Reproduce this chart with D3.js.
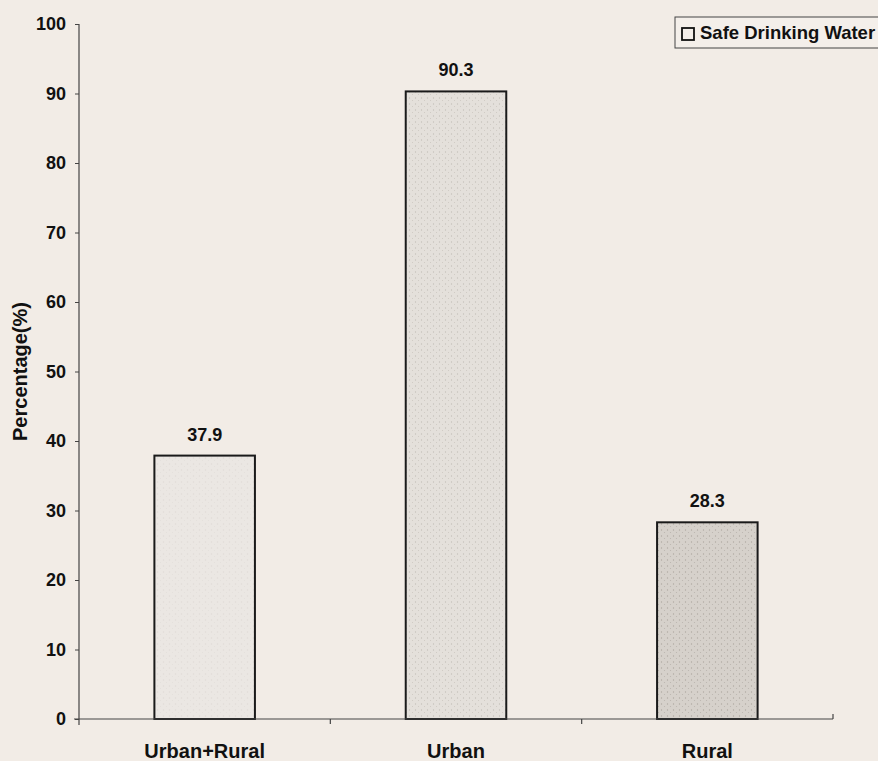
<!DOCTYPE html>
<html>
<head>
<meta charset="utf-8">
<script src="https://cdn.jsdelivr.net/npm/d3@7"></script>
<style>
  html, body { margin: 0; padding: 0; background: #f2ece6; }
  svg { display: block; }
  text { font-family: "Liberation Sans", Arial, sans-serif; font-weight: bold; fill: #111; }
</style>
</head>
<body>
<svg id="chart" width="878" height="761"></svg>
<script>
const categories = ["Urban+Rural", "Urban", "Rural"];
const values = [37.9, 90.3, 28.3];
const yTicks = [0, 10, 20, 30, 40, 50, 60, 70, 80, 90, 100];
const seriesName = "Safe Drinking Water";
const yLabel = "Percentage(%)";
const barFills = ["#ebe7e3", "#e4e0db", "#d6d1cb"];

const svg = d3.select("#chart");
const mLeft = 79, mRight = 833, mTop = 24, mBottom = 719;

const x = d3.scaleBand().domain(categories).range([mLeft, mRight]).paddingInner(0.6).paddingOuter(0.3);
const y = d3.scaleLinear().domain([0, 100]).range([mBottom, mTop]);

// speckle pattern for photo-like texture
const defs = svg.append("defs");
barFills.forEach((c, i) => {
  const p = defs.append("pattern").attr("id", "pat" + i).attr("patternUnits", "userSpaceOnUse")
    .attr("width", 6).attr("height", 6);
  p.append("rect").attr("width", 6).attr("height", 6).attr("fill", c);
  p.append("circle").attr("cx", 1.5).attr("cy", 2).attr("r", 0.7).attr("fill", "#aaa49e").attr("opacity", 0.2 + i * 0.35);
  p.append("circle").attr("cx", 4.5).attr("cy", 4.5).attr("r", 0.6).attr("fill", "#b4aea8").attr("opacity", 0.15 + i * 0.35);
});

// bars
svg.selectAll("rect.bar").data(categories).enter().append("rect")
  .attr("class", "bar")
  .attr("x", d => x(d))
  .attr("y", (d, i) => y(values[i]))
  .attr("width", x.bandwidth())
  .attr("height", (d, i) => y(0) - y(values[i]))
  .attr("fill", (d, i) => `url(#pat${i})`)
  .attr("stroke", "#1a1a1a")
  .attr("stroke-width", 2);

// value labels
svg.selectAll("text.val").data(categories).enter().append("text")
  .attr("class", "val")
  .attr("x", d => x(d) + x.bandwidth() / 2)
  .attr("y", (d, i) => y(values[i]) - 15)
  .attr("text-anchor", "middle")
  .attr("font-size", 18)
  .text((d, i) => values[i].toFixed(1));

// y axis
const yAxis = d3.axisLeft(y).tickValues(yTicks).tickSize(4).tickPadding(9);
const gy = svg.append("g").attr("transform", `translate(${mLeft},0)`).call(yAxis);
gy.select(".domain").attr("stroke", "#444").attr("stroke-width", 1.2).attr("d", `M0,${mTop}V${mBottom + 6}`);
gy.selectAll(".tick line").attr("stroke", "#444");
gy.selectAll(".tick text").attr("font-size", 18).attr("font-family", "Liberation Sans, Arial, sans-serif").attr("font-weight", "bold").attr("fill", "#111");

// x axis line with boundary ticks
svg.append("line").attr("x1", mLeft - 5).attr("x2", mRight).attr("y1", mBottom).attr("y2", mBottom)
  .attr("stroke", "#444").attr("stroke-width", 1.2);
const boundaries = categories.map(c => x(c) - x.step() * x.paddingOuter() + x.step());
svg.selectAll("line.xt").data(boundaries).enter().append("line")
  .attr("class", "xt")
  .attr("x1", d => d).attr("x2", d => d)
  .attr("y1", (d, i) => i === boundaries.length - 1 ? mBottom - 5 : mBottom)
  .attr("y2", (d, i) => i === boundaries.length - 1 ? mBottom : mBottom + 5)
  .attr("stroke", "#444").attr("stroke-width", 1.2);

// category labels
svg.selectAll("text.cat").data(categories).enter().append("text")
  .attr("class", "cat")
  .attr("x", d => x(d) + x.bandwidth() / 2)
  .attr("y", 758)
  .attr("text-anchor", "middle")
  .attr("font-size", 20)
  .text(d => d);

// y label
svg.append("text")
  .attr("transform", `translate(27, ${y(50)}) rotate(-90)`)
  .attr("text-anchor", "middle")
  .attr("font-size", 20)
  .text(yLabel);

// legend
const lg = svg.append("g");
lg.append("rect").attr("x", 675).attr("y", 17).attr("width", 215).attr("height", 31)
  .attr("fill", "#f4efea").attr("stroke", "#444").attr("stroke-width", 1);
lg.append("rect").attr("x", 682).attr("y", 28).attr("width", 12).attr("height", 12)
  .attr("fill", "#f4efea").attr("stroke", "#111").attr("stroke-width", 1.8);
lg.append("text").attr("x", 700).attr("y", 39).attr("font-size", 18.5).text(seriesName);
</script>
</body>
</html>
